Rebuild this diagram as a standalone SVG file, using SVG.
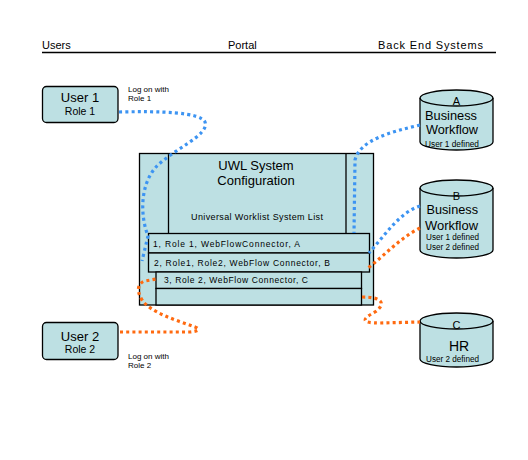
<svg xmlns="http://www.w3.org/2000/svg" width="528" height="460" viewBox="0 0 528 460">
<style>
.box{fill:#bde0e3;stroke:#000;stroke-width:1.3}
.t{font-family:"Liberation Sans",Arial,sans-serif;fill:#000}
.c{fill:none;stroke-width:3.2;stroke-dasharray:3 3.2}
.blue{stroke:#3d94f2}
.orange{stroke:#ff6a10}
</style>
<rect width="528" height="460" fill="#fff"/>
<g id="header">
<text class="t" x="42" y="49" font-size="11">Users</text>
<text class="t" x="228" y="49" font-size="11">Portal</text>
<text class="t" x="378" y="49" font-size="11" textLength="105" lengthAdjust="spacing">Back End Systems</text>
<line x1="42" y1="52.5" x2="496" y2="52.5" stroke="#000" stroke-width="1.3"/>
</g>
<g id="user1">
<rect class="box" x="42.5" y="86.5" width="75.5" height="36" rx="4"/>
<text class="t" x="80" y="102" font-size="13" text-anchor="middle">User 1</text>
<text class="t" x="80" y="115" font-size="10.5" text-anchor="middle">Role 1</text>
</g>
<g id="user1-label">
<text class="t" x="128" y="92" font-size="8">Log on with</text>
<text class="t" x="128" y="101" font-size="8">Role 1</text>
</g>
<g id="user2">
<rect class="box" x="42.5" y="322.5" width="75.5" height="37" rx="4"/>
<text class="t" x="80" y="340.5" font-size="13" text-anchor="middle">User 2</text>
<text class="t" x="80" y="353" font-size="10.5" text-anchor="middle">Role 2</text>
</g>
<g id="user2-label">
<text class="t" x="128" y="358.5" font-size="8">Log on with</text>
<text class="t" x="128" y="368" font-size="8">Role 2</text>
</g>
<g id="uwl">
<rect class="box" x="139.5" y="153.5" width="234" height="151.5"/>
<line x1="168.5" y1="153.5" x2="168.5" y2="233.5" stroke="#000" stroke-width="1.3"/>
<line x1="346" y1="153.5" x2="346" y2="233.5" stroke="#000" stroke-width="1.3"/>
<text class="t" x="256" y="170" font-size="13" text-anchor="middle">UWL System</text>
<text class="t" x="256" y="185" font-size="13" text-anchor="middle">Configuration</text>
<text class="t" x="191" y="220" font-size="9" textLength="132" lengthAdjust="spacing">Universal Worklist System List</text>
</g>
<g id="row1">
<rect class="box" x="148.5" y="233.5" width="221" height="19.5"/>
<text class="t" x="153" y="246.5" font-size="8.5" textLength="147" lengthAdjust="spacing">1, Role 1, WebFlowConnector, A</text>
</g>
<g id="row2">
<rect class="box" x="148.5" y="253" width="221" height="19"/>
<text class="t" x="154" y="265.5" font-size="8.5" textLength="176" lengthAdjust="spacing">2, Role1, Role2, WebFlow Connector, B</text>
</g>
<g id="row3">
<rect class="box" x="156" y="272" width="205.5" height="16.5"/>
<text class="t" x="164" y="282.5" font-size="8.5" textLength="144" lengthAdjust="spacing">3, Role 2, WebFlow Connector, C</text>
</g>
<g id="row4">
<rect class="box" x="156" y="288.5" width="205.5" height="16.5"/>
</g>
<g id="systemA">
<path class="box" d="M420,98 A36.5,8 0 0 1 493,98 L493,142 A36.5,8 0 0 1 420,142 Z"/>
<path d="M420,98 A36.5,8 0 0 0 493,98" fill="none" stroke="#000" stroke-width="1.3"/>
<text class="t" x="456.5" y="105" font-size="11" text-anchor="middle">A</text>
<text class="t" x="425" y="120" font-size="13" textLength="52" lengthAdjust="spacingAndGlyphs">Business</text>
<text class="t" x="426" y="134" font-size="13" textLength="52" lengthAdjust="spacingAndGlyphs">Workflow</text>
<text class="t" x="425" y="146.5" font-size="8.5" textLength="54" lengthAdjust="spacingAndGlyphs">User 1 defined</text>
</g>
<g id="systemB">
<path class="box" d="M420,188 A36.5,8 0 0 1 493,188 L493,250 A36.5,8 0 0 1 420,250 Z"/>
<path d="M420,188 A36.5,8 0 0 0 493,188" fill="none" stroke="#000" stroke-width="1.3"/>
<text class="t" x="456.5" y="200" font-size="11" text-anchor="middle">B</text>
<text class="t" x="426.5" y="213.5" font-size="13" textLength="51.5" lengthAdjust="spacingAndGlyphs">Business</text>
<text class="t" x="425" y="229.5" font-size="13" textLength="53" lengthAdjust="spacingAndGlyphs">Workflow</text>
<text class="t" x="426" y="240" font-size="8.5" textLength="53" lengthAdjust="spacingAndGlyphs">User 1 defined</text>
<text class="t" x="426" y="250" font-size="8.5" textLength="53" lengthAdjust="spacingAndGlyphs">User 2 defined</text>
</g>
<g id="systemC">
<path class="box" d="M420,321 A36.5,8 0 0 1 493,321 L493,359 A36.5,8 0 0 1 420,359 Z"/>
<path d="M420,321 A36.5,8 0 0 0 493,321" fill="none" stroke="#000" stroke-width="1.3"/>
<text class="t" x="456.5" y="328.5" font-size="11" text-anchor="middle">C</text>
<text class="t" x="459" y="351" font-size="14" text-anchor="middle">HR</text>
<text class="t" x="426" y="362" font-size="8.5" textLength="53" lengthAdjust="spacingAndGlyphs">User 2 defined</text>
</g>
<g id="connectors">
<path class="c blue" d="M119,112 C160,111 200,112 205,122 C210,135 172,150 156,167 C140,185 140,215 148,236 L142,261"/>
<path class="c blue" d="M420,125 C390,132 360,140 355,160 L354,233"/>
<path class="c blue" d="M420,206 C400,212 385,235 369,253"/>
<path class="c orange" d="M420,228 C400,238 385,255 368,268"/>
<path class="c orange" d="M362,297 C385,297 385,305 375,312 C360,320 362,323 380,323 L420,322"/>
<path class="c orange" d="M120,332 L190,332 C200,331 200,329 195,327 C175,320 150,312 142,300 C136,290 138,283 145,281 L156,279"/>
</g>
</svg>
